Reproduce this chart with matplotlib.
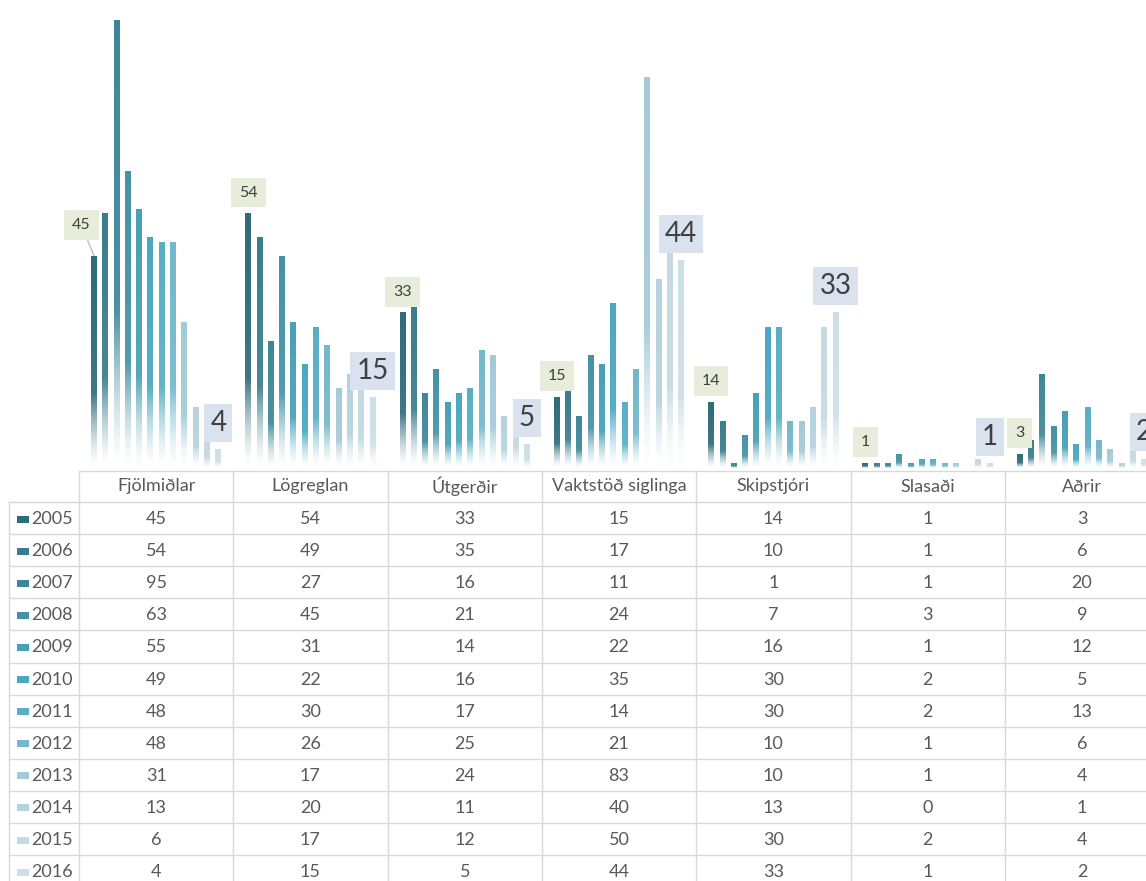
import matplotlib.pyplot as plt
import numpy as np
from matplotlib.colors import to_rgb
from matplotlib.patches import Rectangle

plt.rcParams['font.family'] = ['Lato', 'DejaVu Sans']

#%% Data

categories = ['Fjölmiðlar', 'Lögreglan', 'Útgerðir', 'Vaktstöð siglinga',
              'Skipstjóri', 'Slasaði', 'Aðrir']
years = ['2005', '2006', '2007', '2008', '2009', '2010',
         '2011', '2012', '2013', '2014', '2015', '2016']

fjolmidlar = [45, 54, 95, 63, 55, 49, 48, 48, 31, 13, 6, 4]
logreglan = [54, 49, 27, 45, 31, 22, 30, 26, 17, 20, 17, 15]
utgerdir = [33, 35, 16, 21, 14, 16, 17, 25, 24, 11, 12, 5]
vaktstod = [15, 17, 11, 24, 22, 35, 14, 21, 83, 40, 50, 44]
skipstjori = [14, 10, 1, 7, 16, 30, 30, 10, 10, 13, 30, 33]
slasadi = [1, 1, 1, 3, 1, 2, 2, 1, 1, 0, 2, 1]
adrir = [3, 6, 20, 9, 12, 5, 13, 6, 4, 1, 4, 2]

values = np.array([fjolmidlar, logreglan, utgerdir, vaktstod,
                   skipstjori, slasadi, adrir])  # shape (cat, year)

colors = ['#2f6b79', '#3a7d8e', '#3f8798', '#4592a6', '#47a0b4', '#4aa8c0',
          '#5aaec4', '#74b8cb', '#a5cad7', '#b6d3dd', '#c4d9e2', '#cddfe6']

#%% Layout (pixels)

W, H = 1146, 881
base_y = 468          # bar baseline, px from top
px_per_unit = 4.716
col_x0 = 79
col_w = 154.3
n_cat = len(categories)
n_ser = len(years)

fig = plt.figure(figsize=(W / 100, H / 100), dpi=100)
ax = fig.add_axes([col_x0 / W, (H - base_y) / H, n_cat * col_w / W, base_y / H])
ax.set_xlim(-0.5, n_cat - 0.5)
ax.set_ylim(0, base_y / px_per_unit)
ax.axis('off')

step = 11.3 / col_w
bw = 6.0 / col_w


def gradient(col, n=100, fade=0.35):
    # top: colour, fading towards white at the bottom of each bar
    t = np.linspace(0, 1, n)[:, None]
    a = np.clip(t / fade, 0, 1) ** 1.4
    a = a * (0.88 + 0.12 * t)
    c = np.array(to_rgb(col))[None, :]
    img = 1 - a * (1 - c)
    return img[:, None, :]


x = np.arange(n_cat)
for j in range(n_ser):
    xs = x + (j - (n_ser - 1) / 2) * step
    bars = ax.bar(xs, values[:, j], width=bw, color='none', linewidth=0)
    img = gradient(colors[j])
    for b in bars:
        h = b.get_height()
        if h <= 0:
            continue
        x0 = b.get_x()
        im = ax.imshow(img, extent=[x0, x0 + b.get_width(), 0, h],
                       origin='lower', aspect='auto', zorder=2,
                       interpolation='bilinear')
        im.set_clip_path(b)

    # data labels for first and last series
    if j == 0:
        for i, v in enumerate(values[:, j]):
            dx, dy = (-9, 22) if i == 0 else (0, 15)
            ax.annotate(str(v), (xs[i], v), xytext=(dx, dy),
                        textcoords='offset points', ha='center', va='center',
                        fontsize=11.5, color='#404040', zorder=5,
                        bbox=dict(boxstyle='square,pad=0.5', fc='#e8ecdb', ec='none'),
                        arrowprops=dict(arrowstyle='-', color='#b0b0b0', lw=0.8,
                                        shrinkA=0, shrinkB=0) if i == 0 else None)
    if j == n_ser - 1:
        for i, v in enumerate(values[:, j]):
            ax.annotate(str(v), (xs[i], v), xytext=(0, 19),
                        textcoords='offset points', ha='center', va='center',
                        fontsize=20, color='#404040', zorder=5,
                        bbox=dict(boxstyle='square,pad=0.22', fc='#d9e2ee', ec='none'))

ax.set_xlim(-0.5, n_cat - 0.5)
ax.set_ylim(0, base_y / px_per_unit)

#%% Data table

tax = fig.add_axes([0, 0, 1, 1], zorder=-1)
tax.set_xlim(0, W)
tax.set_ylim(H, 0)
tax.axis('off')

grid_c = '#d9d9d9'
txt_c = '#595959'
head_top = 471
row_top = 502
row_h = 32.1
right = col_x0 + n_cat * col_w
bottom = row_top + n_ser * row_h

tax.plot([col_x0, right], [head_top, head_top], color=grid_c, lw=1)
for k in range(n_ser + 1):
    yy = row_top + k * row_h
    tax.plot([9, right], [yy, yy], color=grid_c, lw=1)
for c in range(n_cat + 1):
    xx = col_x0 + c * col_w
    tax.plot([xx, xx], [head_top, bottom], color=grid_c, lw=1)
tax.plot([9, 9], [row_top, bottom], color=grid_c, lw=1)

for c, name in enumerate(categories):
    tax.text(col_x0 + (c + 0.5) * col_w, (head_top + row_top) / 2, name,
             ha='center', va='center', fontsize=13, color=txt_c)

for r, yr in enumerate(years):
    yc = row_top + (r + 0.5) * row_h
    tax.add_patch(Rectangle((17, yc - 2.5), 12, 7, fc=colors[r], ec='none'))
    tax.text(31, yc + 1, yr, ha='left', va='center', fontsize=13, color=txt_c)
    for c in range(n_cat):
        tax.text(col_x0 + (c + 0.5) * col_w, yc + 1, str(values[c, r]),
                 ha='center', va='center', fontsize=13, color=txt_c)

tax.set_xlim(0, W)
tax.set_ylim(H, 0)

fig.savefig('out.png', dpi=100)
